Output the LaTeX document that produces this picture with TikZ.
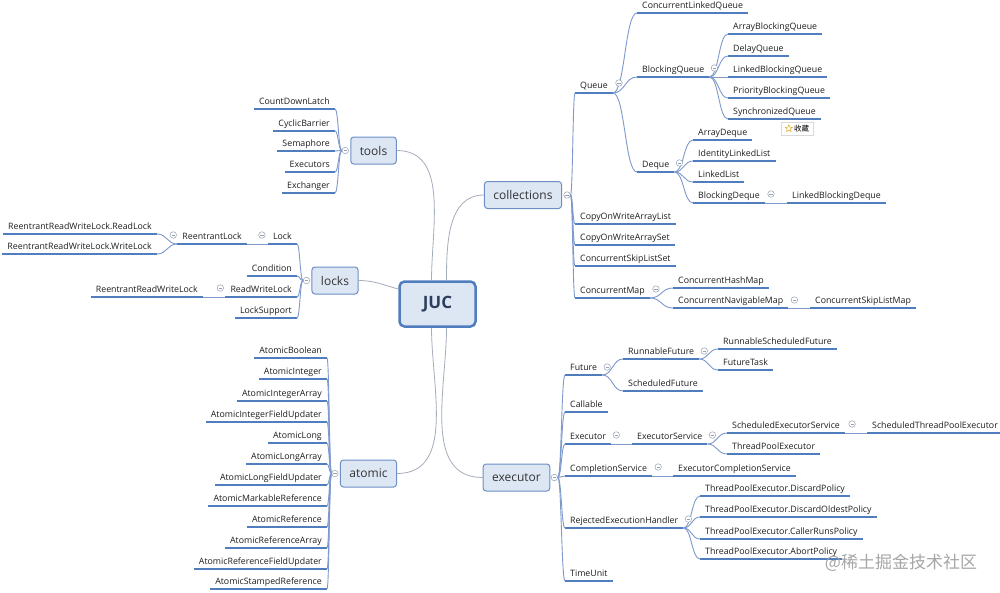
\documentclass[tikz,border=0pt]{standalone}
\usepackage{fontspec}
\setmainfont{Open Sans}
\newfontfamily\cjk{Noto Sans CJK SC}
\usetikzlibrary{calc, shapes.geometric}
\definecolor{ulblue}{RGB}{79,125,189}
\definecolor{linkblue}{RGB}{125,153,205}
\definecolor{trunkgray}{RGB}{165,172,186}
\definecolor{topicline}{RGB}{110,143,196}
\definecolor{topicfill}{RGB}{221,231,244}
\definecolor{rootline}{RGB}{79,125,189}
\definecolor{roottext}{RGB}{44,62,92}
\definecolor{foldgray}{RGB}{150,160,178}
\definecolor{leaftext}{RGB}{30,30,30}
\definecolor{starcol}{RGB}{225,170,40}
\tikzset{
    uline/.style={draw=ulblue, line width=1.5pt},
    leaf/.style={font=\fontsize{8.8}{10}\selectfont, text=leaftext,
        text height=7pt, text depth=2pt, inner xsep=5pt, inner ysep=2pt,
        append after command={(\tikzlastnode.south west) edge[uline] (\tikzlastnode.south east)}},
    topic/.style={draw=topicline, fill=topicfill, line width=1pt, rounded corners=3pt,
        font=\fontsize{12}{14}\selectfont, text=black!80, minimum height=27pt, inner xsep=9pt},
    rootbox/.style={draw=rootline, fill=topicfill, line width=2.5pt, rounded corners=5pt,
        font=\bfseries\fontsize{17}{20}\selectfont, text=roottext,
        minimum width=76pt, minimum height=45pt},
    fold/.style={circle, draw=foldgray, fill=white, line width=0.5pt, minimum size=6.5pt, inner sep=0pt,
        path picture={\draw[foldgray, line width=0.5pt] ([xshift=-1.6pt]path picture bounding box.center) -- ([xshift=1.6pt]path picture bounding box.center);}},
    link/.style={draw=linkblue, line width=0.9pt},
    trunk/.style={draw=trunkgray, line width=0.8pt},
    twig/.style={to path={let \p1=(\tikztostart), \p2=(\tikztotarget) in
        .. controls ({(\x1+\x2)/2},\y1) and ({(\x1+\x2)/2},\y2) .. (\tikztotarget)}},
}

\begin{document}
\begin{tikzpicture}[x=1pt, y=1pt]
\useasboundingbox[fill=white] (0,0) rectangle (1000,-592);

% main topics
\node[rootbox] (juc) at (437.5,-304) {JUC};
\node[topic] (tools) at (373.5,-150.5) {tools};
\node[topic] (locks) at (335,-280.5) {locks};
\node[topic] (atomic) at (368.5,-473.5) {atomic};
\node[topic] (coll) at (523,-195) {collections};
\node[topic] (exec) at (516.5,-477.5) {executor};

\draw[trunk] ([xshift=-6pt]juc.north) to[out=90,in=0] (tools.east);
\draw[trunk] ([xshift=9pt]juc.north) to[out=90,in=180] (coll.west);
\draw[trunk] ([yshift=15pt]juc.west) to[out=165,in=0] (locks.east);
\draw[trunk] ([xshift=-6pt]juc.south) to[out=-90,in=0] (atomic.east);
\draw[trunk] ([xshift=9pt]juc.south) to[out=-90,in=180] (exec.west);

\node[fold] (toolsf) at ([xshift=-5pt]tools.west) {};
\node[fold] (locksf) at ([xshift=-5pt]locks.west) {};
\node[fold] (atomicf) at ([xshift=-5pt]atomic.west) {};
\node[fold] (collf) at ([xshift=5pt]coll.east) {};
\node[fold] (execf) at ([xshift=4pt]exec.east) {};

% tools
\node[leaf, anchor=south east] (cdl) at (335,-109) {CountDownLatch};
\node[leaf, anchor=south east] (cb) at (335,-131) {CyclicBarrier};
\node[leaf, anchor=south east] (sem) at (335,-151) {Semaphore};
\node[leaf, anchor=south east] (exs) at (335,-172) {Executors};
\node[leaf, anchor=south east] (exch) at (335,-193) {Exchanger};
\draw[link] (toolsf.west) edge[twig] (cdl.south east) edge[twig] (cb.south east)
    edge[twig] (sem.south east) edge[twig] (exs.south east) edge[twig] (exch.south east);

% locks
\node[leaf, anchor=south east] (lock) at (297,-244) {Lock};
\node[leaf, anchor=south east] (cond) at (297,-276) {Condition};
\node[leaf, anchor=south east] (rwl) at (297,-297) {ReadWriteLock};
\node[leaf, anchor=south east] (ls) at (297,-318) {LockSupport};
\node[leaf, anchor=south east] (rl) at (247,-244) {ReentrantLock};
\node[leaf, anchor=south east] (rlread) at (157,-234) {ReentrantReadWriteLock.ReadLock};
\node[leaf, anchor=south east] (rlwrite) at (157,-254) {ReentrantReadWriteLock.WriteLock};
\node[leaf, anchor=south east] (rrwl) at (203,-297) {ReentrantReadWriteLock};
\draw[link] (locksf.west) edge[twig] (lock.south east) edge[twig] (cond.south east)
    edge[twig] (rwl.south east) edge[twig] (ls.south east);
\draw[link] (lock.south west) -- (rl.south east);
\draw[link] (rl.south west) edge[twig] (rlread.south east) edge[twig] (rlwrite.south east);
\draw[link] (rwl.south west) -- (rrwl.south east);
\node[fold] at ([xshift=-6pt,yshift=9pt]lock.south west) {};
\node[fold] at ([xshift=-4pt,yshift=9pt]rl.south west) {};
\node[fold] at ([xshift=-5pt,yshift=9pt]rwl.south west) {};

% atomic
\node[leaf, anchor=south east] (ab) at (327,-358) {AtomicBoolean};
\node[leaf, anchor=south east] (ai) at (327,-379) {AtomicInteger};
\node[leaf, anchor=south east] (aia) at (327,-401) {AtomicIntegerArray};
\node[leaf, anchor=south east] (aifu) at (327,-422) {AtomicIntegerFieldUpdater};
\node[leaf, anchor=south east] (al) at (327,-443) {AtomicLong};
\node[leaf, anchor=south east] (ala) at (327,-464) {AtomicLongArray};
\node[leaf, anchor=south east] (alfu) at (327,-485) {AtomicLongFieldUpdater};
\node[leaf, anchor=south east] (amr) at (327,-506) {AtomicMarkableReference};
\node[leaf, anchor=south east] (ar) at (327,-527) {AtomicReference};
\node[leaf, anchor=south east] (ara) at (327,-548) {AtomicReferenceArray};
\node[leaf, anchor=south east] (arfu) at (327,-569) {AtomicReferenceFieldUpdater};
\node[leaf, anchor=south east] (asr) at (327,-589) {AtomicStampedReference};
\draw[link] (atomicf.west) edge[twig] (ab.south east) edge[twig] (ai.south east)
    edge[twig] (aia.south east) edge[twig] (aifu.south east) edge[twig] (al.south east)
    edge[twig] (ala.south east) edge[twig] (alfu.south east) edge[twig] (amr.south east)
    edge[twig] (ar.south east) edge[twig] (ara.south east) edge[twig] (arfu.south east)
    edge[twig] (asr.south east);

% collections
\node[leaf, anchor=south west] (queue) at (575,-93) {Queue};
\node[leaf, anchor=south west] (cowal) at (575,-224) {CopyOnWriteArrayList};
\node[leaf, anchor=south west] (cowas) at (575,-245) {CopyOnWriteArraySet};
\node[leaf, anchor=south west] (csls) at (575,-266) {ConcurrentSkipListSet};
\node[leaf, anchor=south west] (cmap) at (575,-298) {ConcurrentMap};
\draw[link] (collf.east) edge[twig] (queue.south west) edge[twig] (cowal.south west)
    edge[twig] (cowas.south west) edge[twig] (csls.south west) edge[twig] (cmap.south west);

\node[leaf, anchor=south west] (clq) at (637,-13) {ConcurrentLinkedQueue};
\node[leaf, anchor=south west] (bq) at (637,-77) {BlockingQueue};
\node[leaf, anchor=south west] (deque) at (637,-172) {Deque};
\draw[link] (queue.south east) edge[twig] (clq.south west) edge[twig] (bq.south west)
    edge[twig] (deque.south west);

\node[leaf, anchor=south west] (abq) at (728,-34) {ArrayBlockingQueue};
\node[leaf, anchor=south west] (dq) at (728,-56) {DelayQueue};
\node[leaf, anchor=south west] (lbq) at (728,-77) {LinkedBlockingQueue};
\node[leaf, anchor=south west] (pbq) at (728,-98) {PriorityBlockingQueue};
\node[leaf, anchor=south west] (sq) at (728,-119) {SynchronizedQueue};
\draw[link] (bq.south east) edge[twig] (abq.south west) edge[twig] (dq.south west)
    edge[twig] (lbq.south west) edge[twig] (pbq.south west) edge[twig] (sq.south west);

\node[leaf, anchor=south west] (ad) at (693,-140) {ArrayDeque};
\node[leaf, anchor=south west] (ill) at (693,-161) {IdentityLinkedList};
\node[leaf, anchor=south west] (ll) at (693,-182) {LinkedList};
\node[leaf, anchor=south west] (bd) at (693,-203) {BlockingDeque};
\node[leaf, anchor=south west] (lbd) at (787,-203) {LinkedBlockingDeque};
\draw[link] (deque.south east) edge[twig] (ad.south west) edge[twig] (ill.south west)
    edge[twig] (ll.south west) edge[twig] (bd.south west);
\draw[link] (bd.south east) -- (lbd.south west);

\node[leaf, anchor=south west] (chm) at (673,-288) {ConcurrentHashMap};
\node[leaf, anchor=south west] (cnm) at (673,-308) {ConcurrentNavigableMap};
\node[leaf, anchor=south west] (cslm) at (810,-308) {ConcurrentSkipListMap};
\draw[link] (cmap.south east) edge[twig] (chm.south west) edge[twig] (cnm.south west);
\draw[link] (cnm.south east) -- (cslm.south west);

\node[fold] at ([xshift=6pt,yshift=10pt]queue.south east) {};
\node[fold] at ([xshift=5pt,yshift=9pt]bq.south east) {};
\node[fold] at ([xshift=5pt,yshift=9pt]deque.south east) {};
\node[fold] at ([xshift=6pt,yshift=9pt]bd.south east) {};
\node[fold] at ([xshift=6pt,yshift=9pt]cmap.south east) {};
\node[fold] at ([xshift=6pt,yshift=8pt]cnm.south east) {};

% executor
\node[leaf, anchor=south west] (fut) at (565,-375) {Future};
\node[leaf, anchor=south west] (call) at (565,-412) {Callable};
\node[leaf, anchor=south west] (ex) at (565,-444) {Executor};
\node[leaf, anchor=south west] (cs) at (565,-476) {CompletionService};
\node[leaf, anchor=south west] (reh) at (565,-528) {RejectedExecutionHandler};
\node[leaf, anchor=south west] (tu) at (565,-581) {TimeUnit};
\draw[link] (execf.east) edge[twig] (fut.south west) edge[twig] (call.south west)
    edge[twig] (ex.south west) edge[twig] (cs.south west) edge[twig] (reh.south west)
    edge[twig] (tu.south west);

\node[leaf, anchor=south west] (rf) at (623,-359) {RunnableFuture};
\node[leaf, anchor=south west] (sf) at (623,-391) {ScheduledFuture};
\node[leaf, anchor=south west] (rsf) at (718,-349) {RunnableScheduledFuture};
\node[leaf, anchor=south west] (ft) at (718,-370) {FutureTask};
\draw[link] (fut.south east) edge[twig] (rf.south west) edge[twig] (sf.south west);
\draw[link] (rf.south east) edge[twig] (rsf.south west) edge[twig] (ft.south west);

\node[leaf, anchor=south west] (es) at (632,-444) {ExecutorService};
\node[leaf, anchor=south west] (ses) at (727,-433) {ScheduledExecutorService};
\node[leaf, anchor=south west] (tpe) at (727,-454) {ThreadPoolExecutor};
\node[leaf, anchor=south west] (stpe) at (867,-433) {ScheduledThreadPoolExecutor};
\draw[link] (ex.south east) -- (es.south west);
\draw[link] (es.south east) edge[twig] (ses.south west) edge[twig] (tpe.south west);
\draw[link] (ses.south east) -- (stpe.south west);

\node[leaf, anchor=south west] (ecs) at (673,-476) {ExecutorCompletionService};
\draw[link] (cs.south east) -- (ecs.south west);

\node[leaf, anchor=south west] (dp) at (700,-496) {ThreadPoolExecutor.DiscardPolicy};
\node[leaf, anchor=south west] (dop) at (700,-517) {ThreadPoolExecutor.DiscardOldestPolicy};
\node[leaf, anchor=south west] (crp) at (700,-539) {ThreadPoolExecutor.CallerRunsPolicy};
\node[leaf, anchor=south west] (abp) at (700,-559) {ThreadPoolExecutor.AbortPolicy};
\draw[link] (reh.south east) edge[twig] (dp.south west) edge[twig] (dop.south west)
    edge[twig] (crp.south west) edge[twig] (abp.south west);

\node[fold] at ([xshift=5pt,yshift=8pt]fut.south east) {};
\node[fold] at ([xshift=5pt,yshift=8pt]rf.south east) {};
\node[fold] at ([xshift=5pt,yshift=9pt]ex.south east) {};
\node[fold] at ([xshift=5pt,yshift=9pt]es.south east) {};
\node[fold] at ([xshift=7pt,yshift=9pt]ses.south east) {};
\node[fold] at ([xshift=6pt,yshift=9pt]cs.south east) {};
\node[fold] at ([xshift=5pt,yshift=9pt]reh.south east) {};

% overlays
\node[draw=black!15, fill=white, inner xsep=4pt, inner ysep=3pt, font=\fontsize{7.5}{9}\selectfont] (fav) at (797,-128.5)
    {\hspace{9pt}{\cjk 收藏}};
\node[star, star points=5, star point ratio=2.3, draw=starcol, line width=0.5pt,
    minimum size=7.5pt, inner sep=0pt] (favstar) at ([xshift=8pt]fav.west) {};
\node[font=\cjk\fontsize{17}{20}\selectfont, text=black!35] (mark) at (901,-563) {@稀土掘金技术社区};
\end{tikzpicture}
\end{document}
